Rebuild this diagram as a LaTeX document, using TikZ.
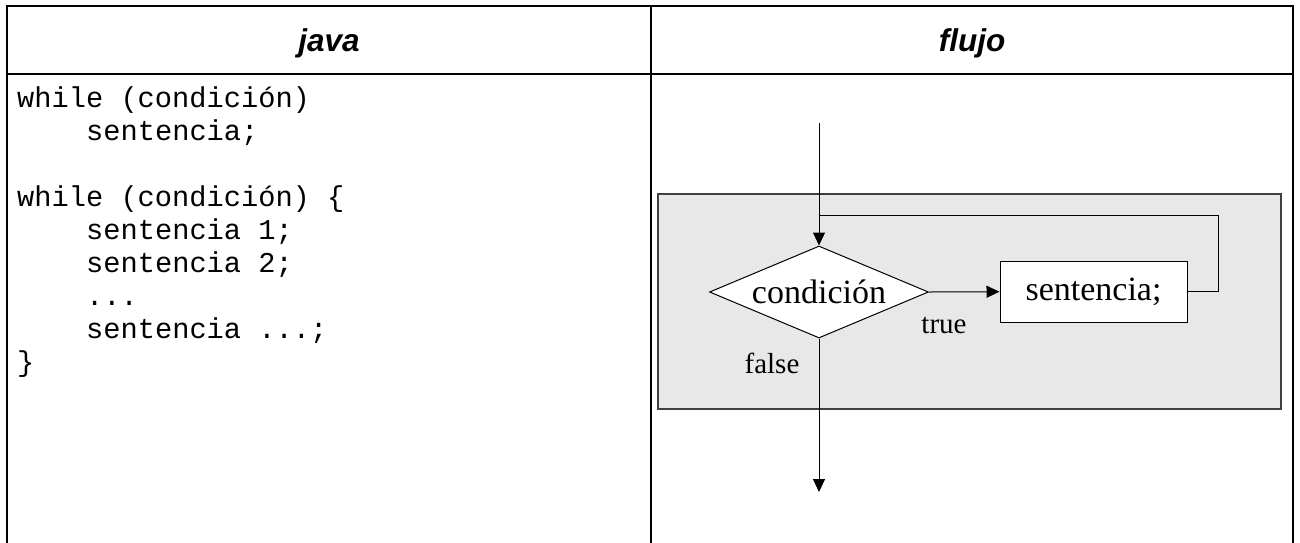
\documentclass[tikz,border=0pt]{standalone}
\usepackage{fontspec}
\setmainfont{Liberation Serif}
\setsansfont{Liberation Sans}
\setmonofont{Liberation Mono}
\usepackage{xcolor}
\usepackage{tikz}
\usetikzlibrary{shapes.geometric,arrows.meta}
\definecolor{panelgray}{RGB}{232,232,232}
\tikzset{
	grid/.style={line width=2pt,line cap=rect},
	title/.style={anchor=base,inner sep=0,font=\sffamily\bfseries\itshape\fontsize{31.5}{36}\selectfont},
	code/.style={anchor=base west,inner sep=0,font=\ttfamily\fontsize{28.7}{33}\selectfont},
	lbl/.style={anchor=base,inner sep=0,font=\fontsize{29}{33}\selectfont},
	flow/.style={line width=1pt,-{Triangle[length=13pt,width=12pt]}},
	decision/.style={shape=diamond,draw=black,fill=white,line width=1pt,inner sep=0,aspect=2.38,minimum width=219pt,minimum height=92pt,font=\fontsize{34}{38}\selectfont},
	stmt/.style={shape=rectangle,draw=black,fill=white,line width=1pt,inner sep=0,minimum width=187pt,minimum height=61pt,font=\fontsize{34}{38}\selectfont}
}
\begin{document}
\begin{tikzpicture}[x=1pt,y=-1pt]
				\useasboundingbox (0,0) rectangle (1300,542);
				
				\draw[grid] (7,542) -- (7,6) -- (1293,6) -- (1293,542);
				\draw[grid] (7,74) -- (1293,74);
				\draw[grid] (651,6) -- (651,542);
				
				\node[title] (java) at (329,51) {java};
				\node[title] (flujo) at (972,51) {flujo};
				
				\node[code] (w1) at (17,107) {while (condición)};
				\node[code] (s1) at (86,140.1) {sentencia;};
				\node[code] (w2) at (17,206.3) {while (condición) \{};
				\node[code] (s2) at (86,239.4) {sentencia 1;};
				\node[code] (s3) at (86,272.5) {sentencia 2;};
				\node[code] (dots) at (86,305.6) {...};
				\node[code] (s4) at (86,338.7) {sentencia ...;};
				\node[code] (close) at (17,371.8) {\}};
				
				\node[draw=black!75,fill=panelgray,line width=1.3pt,minimum width=623pt,minimum height=215pt] (panel) at (969.5,301.5) {};
				
				\coordinate (start) at (819,123);
				\coordinate (loop) at (1218,215);
				\coordinate (exit) at (819,492);
				\node[decision] (cond) at (819,292) {condición};
				\node[stmt] (sent) at (1093.5,291.7) {sentencia;};
				
				\path [flow](start) edge (cond.north);
				\path [flow](cond.east) edge (sent.west);
				\draw [line width=1pt](sent.east) -| (loop) -- (loop -| cond.north);
				\path [flow](cond.south) edge (exit);
				
				\node[lbl] (true) at (944,333) {true};
				\node[lbl] (false) at (772,373) {false};
				%		\node[lbl] at (944,333) {true};
			\end{tikzpicture}
\end{document}
